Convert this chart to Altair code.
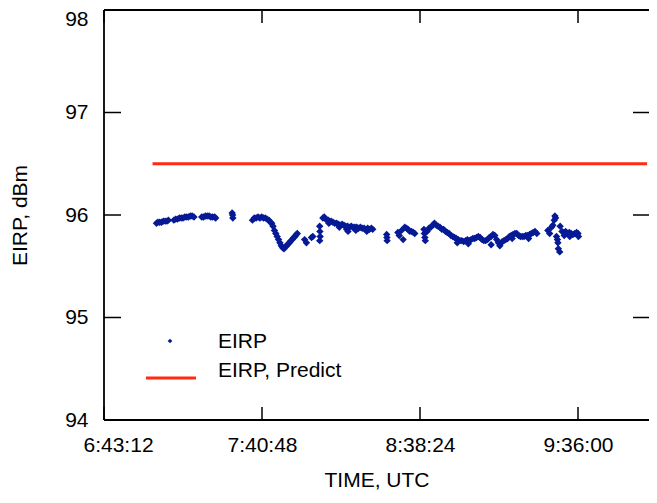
import altair as alt
import pandas as pd

# ---------------- data ----------------
eirp_times = [
    "7:02:20", "7:02:50", "7:03:30", "7:04:10", "7:04:50", "7:05:30", "7:06:10", "7:06:40",
    "7:08:40", "7:09:20", "7:10:00", "7:10:40", "7:11:20", "7:12:00", "7:12:40", "7:13:20",
    "7:14:00", "7:14:40", "7:15:20", "7:16:00",
    "7:18:50", "7:19:30", "7:20:10", "7:20:50", "7:21:30", "7:22:10", "7:22:50", "7:23:30", "7:23:55",
    "7:29:55", "7:30:05", "7:30:10",
    "7:37:20", "7:38:00", "7:38:40", "7:39:20", "7:40:00", "7:40:40", "7:41:20", "7:42:00",
    "7:42:40", "7:43:20", "7:43:50",
    "7:44:20", "7:44:50", "7:45:20", "7:45:50", "7:46:20", "7:46:50", "7:47:20", "7:47:50",
    "7:48:20", "7:48:50", "7:49:20", "7:49:50", "7:50:20", "7:50:50", "7:51:20", "7:51:50",
    "7:52:20", "7:52:50", "7:53:20", "7:53:40",
    "7:56:20", "7:57:00", "7:58:50", "7:59:20",
    "8:01:50", "8:01:55", "8:02:00", "8:01:50",
    "8:03:00", "8:03:30", "8:04:00", "8:04:30", "8:05:00", "8:05:30", "8:06:00", "8:06:40",
    "8:07:20", "8:08:00", "8:08:40", "8:09:20", "8:10:00", "8:10:40", "8:11:20", "8:12:00",
    "8:12:40", "8:13:20", "8:14:00", "8:14:40", "8:15:20", "8:16:00", "8:16:40", "8:17:20",
    "8:18:00", "8:18:40", "8:19:20", "8:20:00", "8:20:40", "8:21:10",
    "8:05:10", "8:09:00", "8:11:40", "8:12:10", "8:15:00", "8:19:00",
    "8:26:15", "8:26:20", "8:26:25",
    "8:30:20", "8:30:50", "8:31:40", "8:32:15", "8:32:50", "8:33:30", "8:34:05", "8:34:40",
    "8:35:20", "8:36:00", "8:36:30",
    "8:39:50", "8:40:00", "8:40:10", "8:40:20", "8:41:00", "8:41:40", "8:42:20", "8:43:00",
    "8:43:40", "8:44:20", "8:45:00", "8:45:40", "8:46:20", "8:47:00", "8:47:40", "8:48:20",
    "8:49:00", "8:49:40", "8:50:20", "8:51:00", "8:51:40", "8:52:20", "8:53:00", "8:53:40",
    "8:54:20", "8:55:00", "8:55:40", "8:56:20", "8:57:00", "8:57:40", "8:58:20", "8:59:00",
    "8:59:40", "9:00:20", "9:01:00", "9:01:40", "9:02:20", "9:03:00", "9:03:40", "9:04:20",
    "9:05:00", "9:05:40", "9:06:20", "9:07:00", "9:07:40", "9:08:20", "9:09:00", "9:09:40",
    "9:10:20", "9:11:00", "9:11:40", "9:12:20", "9:13:00", "9:13:40", "9:14:20", "9:15:00",
    "9:15:40", "9:16:20", "9:17:00", "9:17:40", "9:18:20", "9:19:00", "9:19:40", "9:20:20",
    "9:21:00",
    "8:52:00", "8:56:00", "9:04:20", "9:07:30", "9:12:00", "9:18:00",
    "9:25:00", "9:25:40", "9:26:20", "9:26:50", "9:27:20", "9:27:35", "9:27:50", "9:28:10",
    "9:28:30", "9:28:40", "9:28:50", "9:29:20", "9:29:30", "9:30:10", "9:30:50", "9:31:30",
    "9:32:10", "9:32:50", "9:33:30", "9:34:10", "9:34:50", "9:35:30", "9:36:00", "9:36:10",
    "9:31:00", "9:33:00",
]
eirp_values = [
    95.92, 95.93, 95.93, 95.93, 95.94, 95.94, 95.94, 95.95,
    95.95, 95.96, 95.96, 95.97, 95.97, 95.97, 95.98, 95.98,
    95.98, 95.99, 95.99, 95.98,
    95.98, 95.98, 95.99, 95.99, 95.99, 95.98, 95.98, 95.98, 95.97,
    96.02, 96.00, 95.97,
    95.95, 95.97, 95.97, 95.98, 95.97, 95.98, 95.97, 95.97,
    95.96, 95.95, 95.93,
    95.92, 95.89, 95.85, 95.82, 95.79, 95.76, 95.73, 95.70,
    95.68, 95.67, 95.69, 95.70, 95.72, 95.73, 95.75, 95.76,
    95.78, 95.79, 95.81, 95.82,
    95.76, 95.73, 95.78, 95.79,
    95.89, 95.84, 95.79, 95.75,
    95.97, 95.98, 95.96, 95.95, 95.95, 95.93, 95.94, 95.93,
    95.92, 95.92, 95.91, 95.90, 95.91, 95.90, 95.89, 95.89,
    95.88, 95.89, 95.88, 95.88, 95.88, 95.87, 95.88, 95.87,
    95.87, 95.86, 95.87, 95.86, 95.87, 95.86,
    95.92, 95.88, 95.86, 95.84, 95.85, 95.84,
    95.81, 95.78, 95.75,
    95.83, 95.80, 95.85, 95.76, 95.88, 95.87, 95.86, 95.84,
    95.84, 95.83, 95.82,
    95.86, 95.82, 95.78, 95.75, 95.84, 95.87, 95.88, 95.90,
    95.92, 95.90, 95.89, 95.88, 95.86, 95.86, 95.84, 95.83,
    95.82, 95.80, 95.79, 95.78, 95.77, 95.76, 95.75, 95.75,
    95.74, 95.75, 95.76, 95.75, 95.76, 95.77, 95.77, 95.78,
    95.79, 95.78, 95.76, 95.75, 95.75, 95.76, 95.78, 95.79,
    95.81, 95.80, 95.76, 95.73, 95.72, 95.74, 95.75, 95.76,
    95.77, 95.79, 95.80, 95.81, 95.82, 95.82, 95.80, 95.79,
    95.79, 95.79, 95.80, 95.80, 95.81, 95.82, 95.83, 95.84,
    95.82,
    95.73, 95.72, 95.71, 95.70, 95.77, 95.77,
    95.85, 95.82, 95.88, 95.90, 95.95, 95.99, 95.97, 95.79,
    95.76, 95.73, 95.67, 95.64, 95.89, 95.84, 95.83, 95.84,
    95.82, 95.83, 95.82, 95.81, 95.82, 95.83, 95.82, 95.79,
    95.80, 95.79,
]
predict_times = ["7:00:54", "10:01:12"]
predict_values = [96.5, 96.5]

x_tick_times = ["6:43:12", "7:40:48", "8:38:24", "9:36:00"]
x_domain_times = ["6:43:12", "10:01:53"]
y_ticks = [94, 95, 96, 97, 98]
y_domain = [94, 98]
legend_labels = ["EIRP", "EIRP, Predict"]


def to_sec(s):
    h, m, sec = s.split(":")
    return int(h) * 3600 + int(m) * 60 + int(sec)


BLUE = "#061a96"
RED = "#ff2a10"
FONT = "Liberation Sans"
FS = 21
W, H = 545, 410

eirp_df = pd.DataFrame({"t": [to_sec(s) for s in eirp_times], "v": eirp_values})
pred_df = pd.DataFrame({"t": [to_sec(s) for s in predict_times], "v": predict_values})
xt_df = pd.DataFrame({"t": [to_sec(s) for s in x_tick_times]})
yt_df = pd.DataFrame({"v": y_ticks})
frame_df = pd.DataFrame({"frame": [0]})

x_axis = alt.Axis(
    values=[to_sec(s) for s in x_tick_times],
    labelExpr="utcFormat(datum.value * 1000, '%-H:%M:%S')",
    ticks=False, domain=False, grid=False,
    labelFont=FONT, labelFontSize=FS, labelColor="black",
    labelPadding=14, labelFlush=True, labelFlushOffset=21,
    title="TIME, UTC", titleFont=FONT, titleFontSize=FS, titleFontWeight="normal",
    titleColor="black", titleY=60, titleBaseline="middle",
)
y_axis = alt.Axis(
    values=y_ticks, ticks=False, domain=False, grid=False,
    labelFont=FONT, labelFontSize=FS, labelColor="black", labelPadding=16,
    labelOffset={"condition": {"test": "datum.value == 98", "value": 9}, "value": 0},
    title="EIRP, dBm", titleFont=FONT, titleFontSize=FS, titleFontWeight="normal",
    titleColor="black", titleX=-84, titleY=205, titleBaseline="middle",
)
x_enc = alt.X("t:Q", scale=alt.Scale(domain=[to_sec(s) for s in x_domain_times], nice=False, zero=False), axis=x_axis)
y_enc = alt.Y("v:Q", scale=alt.Scale(domain=y_domain, nice=False, zero=False), axis=y_axis)

points = alt.Chart(eirp_df).mark_point(shape="diamond", filled=True, size=55, color=BLUE, opacity=1).encode(x=x_enc, y=y_enc)
pred_line = alt.Chart(pred_df).mark_line(color=RED, strokeWidth=3).encode(x=x_enc, y=y_enc)

# frame (left, top, bottom; the right side lies beyond the visible area)
frame_style = dict(color="black", strokeWidth=1.8)
frame_top = alt.Chart(frame_df).mark_rule(**frame_style).encode(x=alt.value(0), x2=alt.value(W), y=alt.value(0))
frame_bottom = alt.Chart(frame_df).mark_rule(**frame_style).encode(x=alt.value(0), x2=alt.value(W), y=alt.value(H))
frame_left = alt.Chart(frame_df).mark_rule(**frame_style).encode(x=alt.value(0), y=alt.value(0), y2=alt.value(H))

tick_style = dict(color="black", strokeWidth=1.5)
bottom_ticks = alt.Chart(xt_df).mark_rule(**tick_style).encode(x=x_enc, y=alt.value(H), y2=alt.value(H - 13))
top_ticks = alt.Chart(xt_df).mark_rule(**tick_style).encode(x=x_enc, y=alt.value(0), y2=alt.value(13))
left_ticks = alt.Chart(yt_df).mark_rule(**tick_style).encode(y=y_enc, x=alt.value(0), x2=alt.value(17))
right_ticks = alt.Chart(yt_df).mark_rule(**tick_style).encode(y=y_enc, x=alt.value(W - 16), x2=alt.value(W))

leg1_df = pd.DataFrame({"label": [legend_labels[0]]})
leg2_df = pd.DataFrame({"label": [legend_labels[1]]})
leg_sym = alt.Chart(leg1_df).mark_point(shape="diamond", filled=True, size=22, color=BLUE, opacity=1).encode(
    x=alt.value(66), y=alt.value(331))
leg_txt1 = alt.Chart(leg1_df).mark_text(align="left", baseline="alphabetic", font=FONT, fontSize=FS, color="black").encode(
    x=alt.value(114), y=alt.value(338), text="label:N")
leg_line = alt.Chart(leg2_df).mark_rule(color=RED, strokeWidth=3).encode(
    x=alt.value(42), x2=alt.value(92), y=alt.value(368))
leg_txt2 = alt.Chart(leg2_df).mark_text(align="left", baseline="alphabetic", font=FONT, fontSize=FS, color="black").encode(
    x=alt.value(114), y=alt.value(367), text="label:N")

chart = alt.layer(
    pred_line, points, frame_top, frame_bottom, frame_left,
    bottom_ticks, top_ticks, left_ticks, right_ticks,
    leg_sym, leg_txt1, leg_line, leg_txt2,
).properties(
    width=W, height=H,
    padding={"left": 96, "top": 2, "right": 0, "bottom": 70},
    autosize=alt.AutoSizeParams(type="none"),
    background="white",
).configure_view(strokeWidth=0)

chart.save("out.html", embed_options={"renderer": "svg", "actions": False})
